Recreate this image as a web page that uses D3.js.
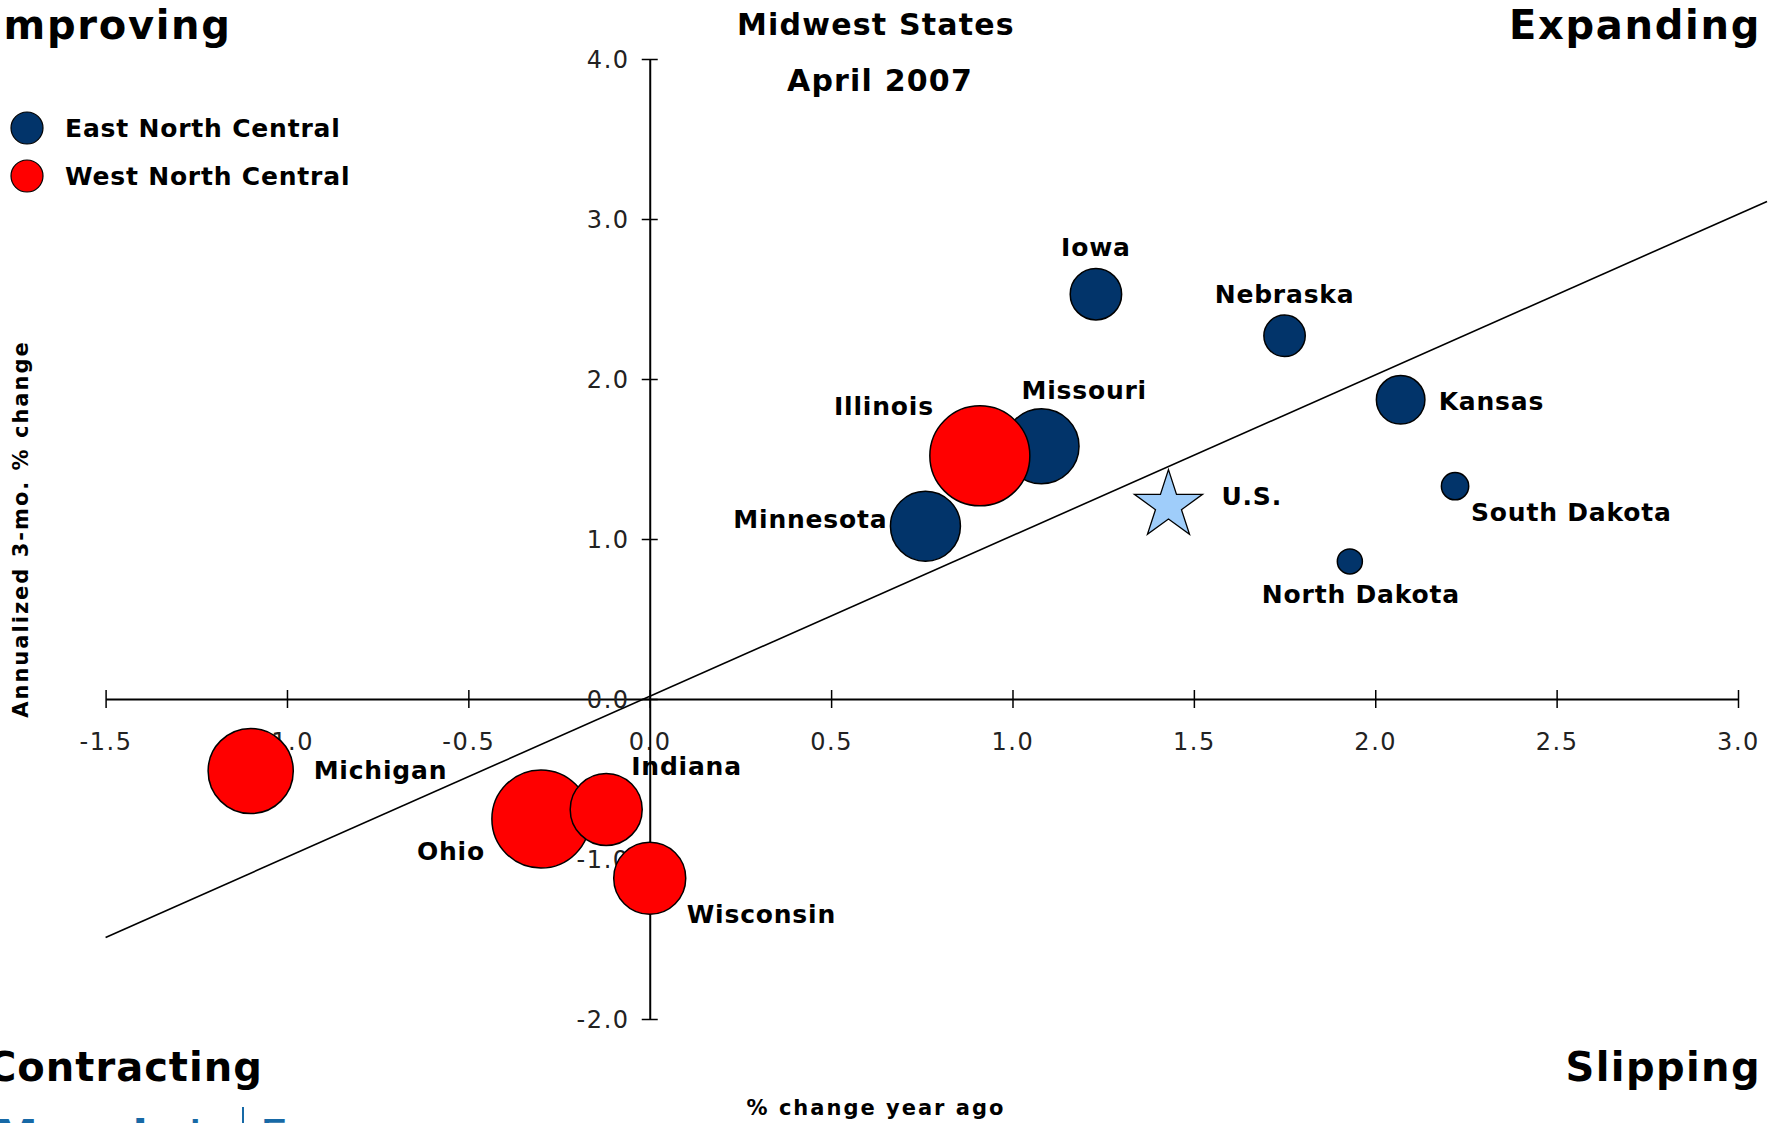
<!DOCTYPE html>
<html>
<head>
<meta charset="utf-8">
<script src="https://cdn.jsdelivr.net/npm/d3@7"></script>
<style>
  html, body { margin: 0; padding: 0; background: #ffffff; overflow: hidden; }
  svg { display: block; }
  text { font-family: "DejaVu Sans", Verdana, sans-serif; }
</style>
</head>
<body>
<svg id="chart" width="1781" height="1123"></svg>
<script>
// ---------------- DATA ----------------
const titleLines = ["Midwest States", "April 2007"];
const quadrantLabels = ["Improving", "Expanding", "Contracting", "Slipping"];
const xAxisTitle = "% change year ago";
const yAxisTitle = "Annualized 3-mo. % change";

const groups = ["East North Central", "West North Central"];
const groupColors = ["#02346a", "#ff0000"];

const xTicks = [-1.5, -1.0, -0.5, 0, 0.5, 1.0, 1.5, 2.0, 2.5, 3.0];
const xTickLabels = ["-1.5", "-1.0", "-0.5", "0.0", "0.5", "1.0", "1.5", "2.0", "2.5", "3.0"];
const yTicks = [-2, -1, 0, 1, 2, 3, 4];
const yTickLabels = ["-2.0", "-1.0", "0.0", "1.0", "2.0", "3.0", "4.0"];

// drawn in this order (later ones on top)
const stateNames = ["Iowa", "Nebraska", "Kansas", "South Dakota", "North Dakota", "Missouri",
                    "Illinois", "Minnesota", "Michigan", "Ohio", "Indiana", "Wisconsin"];
const yoyChange  = [1.23, 1.75, 2.07, 2.22, 1.93, 1.08, 0.91, 0.76, -1.10, -0.30, -0.12, 0.00];
const ann3Change = [2.53, 2.27, 1.87, 1.33, 0.86, 1.58, 1.52, 1.08, -0.45, -0.75, -0.69, -1.12];
const stateSize  = [1.56, 1.01, 1.39, 0.44, 0.37, 3.32, 5.90, 2.89, 4.28, 5.67, 3.06, 3.06];
const stateGroup = [0, 0, 0, 0, 0, 0, 1, 0, 1, 1, 1, 1];

const usName = "U.S.";
const usYoy = 1.43;
const usAnn3 = 1.21;

const trendX = [-1.5, 3.08];
const trendY = [-1.49, 3.11];

// ---------------- LAYOUT ----------------
const W = 1781, H = 1123;
const svg = d3.select("#chart");
svg.append("rect").attr("width", W).attr("height", H).attr("fill", "#fff");

const x = d3.scaleLinear().domain([-1.5, 3.0]).range([105.6, 1738]);
const y = d3.scaleLinear().domain([-2, 4]).range([1019, 59]);
const r = d3.scaleSqrt().domain([0, 5.9]).range([0, 50]);

const labelLayout = {
  "Iowa":         {dx: 0,   dy: -38, anchor: "middle"},
  "Nebraska":     {dx: 0,   dy: -33, anchor: "middle"},
  "Kansas":       {dx: 38,  dy: 10,  anchor: "start"},
  "South Dakota": {dx: 16,  dy: 35,  anchor: "start"},
  "North Dakota": {dx: 11,  dy: 42,  anchor: "middle"},
  "Missouri":     {dx: -20, dy: -47, anchor: "start"},
  "Illinois":     {dx: -46, dy: -41, anchor: "end"},
  "Minnesota":    {dx: -38, dy: 2,   anchor: "end"},
  "Michigan":     {dx: 63,  dy: 8,   anchor: "start"},
  "Indiana":      {dx: 25,  dy: -34, anchor: "start"},
  "Ohio":         {dx: -56, dy: 41,  anchor: "end"},
  "Wisconsin":    {dx: 37,  dy: 45,  anchor: "start"},
  "U.S.":         {dx: 53,  dy: 0,   anchor: "start"}
};

const states = stateNames.map((n, i) => ({
  name: n, x: yoyChange[i], y: ann3Change[i], size: stateSize[i], group: stateGroup[i]
}));

// ---------------- AXES ----------------
const xAxis = d3.axisBottom(x).tickValues(xTicks)
  .tickFormat((d, i) => xTickLabels[i]).tickSizeInner(9).tickSizeOuter(0).tickPadding(0);
const gx = svg.append("g").attr("transform", `translate(0,${y(0)})`).call(xAxis);
gx.select(".domain").attr("stroke", "#000").attr("stroke-width", 2);
gx.selectAll(".tick line").attr("y1", -9).attr("y2", 9).attr("stroke", "#000").attr("stroke-width", 1.5);
gx.selectAll(".tick text").attr("y", 51).attr("dy", null)
  .attr("font-size", 24).attr("letter-spacing", "1.6px").attr("fill", "#222")
  .attr("font-family", "DejaVu Sans, sans-serif");

const yAxis = d3.axisLeft(y).tickValues(yTicks)
  .tickFormat((d, i) => yTickLabels[i]).tickSizeInner(8).tickSizeOuter(0).tickPadding(0);
const gy = svg.append("g").attr("transform", `translate(${x(0)},0)`).call(yAxis);
gy.select(".domain").attr("stroke", "#000").attr("stroke-width", 2);
gy.selectAll(".tick line").attr("x1", -8).attr("x2", 8).attr("stroke", "#000").attr("stroke-width", 1.5);
gy.selectAll(".tick text").attr("x", -20).attr("dy", "0.36em")
  .attr("font-size", 24).attr("letter-spacing", "1.6px").attr("fill", "#222")
  .attr("font-family", "DejaVu Sans, sans-serif");

// ---------------- TREND LINE ----------------
svg.append("line")
  .attr("x1", x(trendX[0])).attr("y1", y(trendY[0]))
  .attr("x2", x(trendX[1])).attr("y2", y(trendY[1]))
  .attr("stroke", "#000").attr("stroke-width", 1.6);

// ---------------- BUBBLES ----------------
svg.append("g").selectAll("circle")
  .data(states)
  .join("circle")
  .attr("cx", d => x(d.x)).attr("cy", d => y(d.y)).attr("r", d => r(d.size))
  .attr("fill", d => groupColors[d.group])
  .attr("stroke", "#000").attr("stroke-width", 1.5);

// US star
const starR = 35.8;
svg.append("path")
  .attr("d", d3.symbol(d3.symbolStar).size(starR * starR / 0.8908130915292852)())
  .attr("transform", `translate(${x(usYoy)},${y(usAnn3)})`)
  .attr("fill", "#9fcdfa").attr("stroke", "#000").attr("stroke-width", 1.3);

// ---------------- STATE LABELS ----------------
const labelData = states.map(d => ({name: d.name, x: d.x, y: d.y}))
  .concat([{name: usName, x: usYoy, y: usAnn3}]);
svg.append("g").selectAll("text")
  .data(labelData).join("text")
  .attr("x", d => x(d.x) + labelLayout[d.name].dx)
  .attr("y", d => y(d.y) + labelLayout[d.name].dy)
  .attr("text-anchor", d => labelLayout[d.name].anchor)
  .attr("font-size", 25).attr("font-weight", "bold").attr("letter-spacing", "0.8px")
  .attr("fill", "#000")
  .text(d => d.name);

// ---------------- TITLE ----------------
svg.append("text").attr("x", 876).attr("y", 35).attr("text-anchor", "middle")
  .attr("font-size", 30).attr("font-weight", "bold").attr("letter-spacing", "1.2px")
  .text(titleLines[0]);
svg.append("text").attr("x", 880).attr("y", 91).attr("text-anchor", "middle")
  .attr("font-size", 30).attr("font-weight", "bold").attr("letter-spacing", "1.2px")
  .text(titleLines[1]);

// ---------------- QUADRANT LABELS ----------------
const qStyle = (sel, ls) => sel.attr("font-size", 40).attr("font-weight", "bold").attr("letter-spacing", ls).attr("fill", "#000");
svg.append("text").attr("x", -13).attr("y", 39).call(qStyle, "1.7px").text(quadrantLabels[0]);
svg.append("text").attr("x", 1761).attr("y", 39).attr("text-anchor", "end").call(qStyle, "1.7px").text(quadrantLabels[1]);
svg.append("text").attr("x", -13).attr("y", 1081).call(qStyle, "1px").text(quadrantLabels[2]);
svg.append("text").attr("x", 1761).attr("y", 1081).attr("text-anchor", "end").call(qStyle, "1.4px").text(quadrantLabels[3]);

// ---------------- AXIS TITLES ----------------
svg.append("text").attr("x", 876).attr("y", 1115).attr("text-anchor", "middle")
  .attr("font-size", 21).attr("font-weight", "bold").attr("letter-spacing", "2px")
  .text(xAxisTitle);
svg.append("text").attr("transform", "translate(28,529) rotate(-90)").attr("text-anchor", "middle")
  .attr("font-size", 21).attr("font-weight", "bold").attr("letter-spacing", "2px")
  .text(yAxisTitle);

// ---------------- LEGEND ----------------
const leg = svg.append("g");
groups.forEach((g, i) => {
  const cy = 128 + i * 48;
  leg.append("circle").attr("cx", 27).attr("cy", cy).attr("r", 16)
    .attr("fill", groupColors[i]).attr("stroke", "#000").attr("stroke-width", 1.2);
  leg.append("text").attr("x", 65).attr("y", cy + 9)
    .attr("font-size", 25).attr("font-weight", "bold").attr("letter-spacing", "0.8px")
    .text(g);
});

// ---------------- LOGO (clipped at bottom edge) ----------------
svg.append("text").attr("x", -6).attr("y", 1152)
  .attr("font-size", 44).attr("font-weight", "bold").attr("fill", "#1769a6")
  .attr("letter-spacing", "6px").text("Moody's");
svg.append("line").attr("x1", 243).attr("x2", 243).attr("y1", 1107).attr("y2", 1123)
  .attr("stroke", "#1769a6").attr("stroke-width", 2);
svg.append("text").attr("x", 260).attr("y", 1152)
  .attr("font-size", 44).attr("fill", "#1769a6").text("Economy.com");
</script>
</body>
</html>
